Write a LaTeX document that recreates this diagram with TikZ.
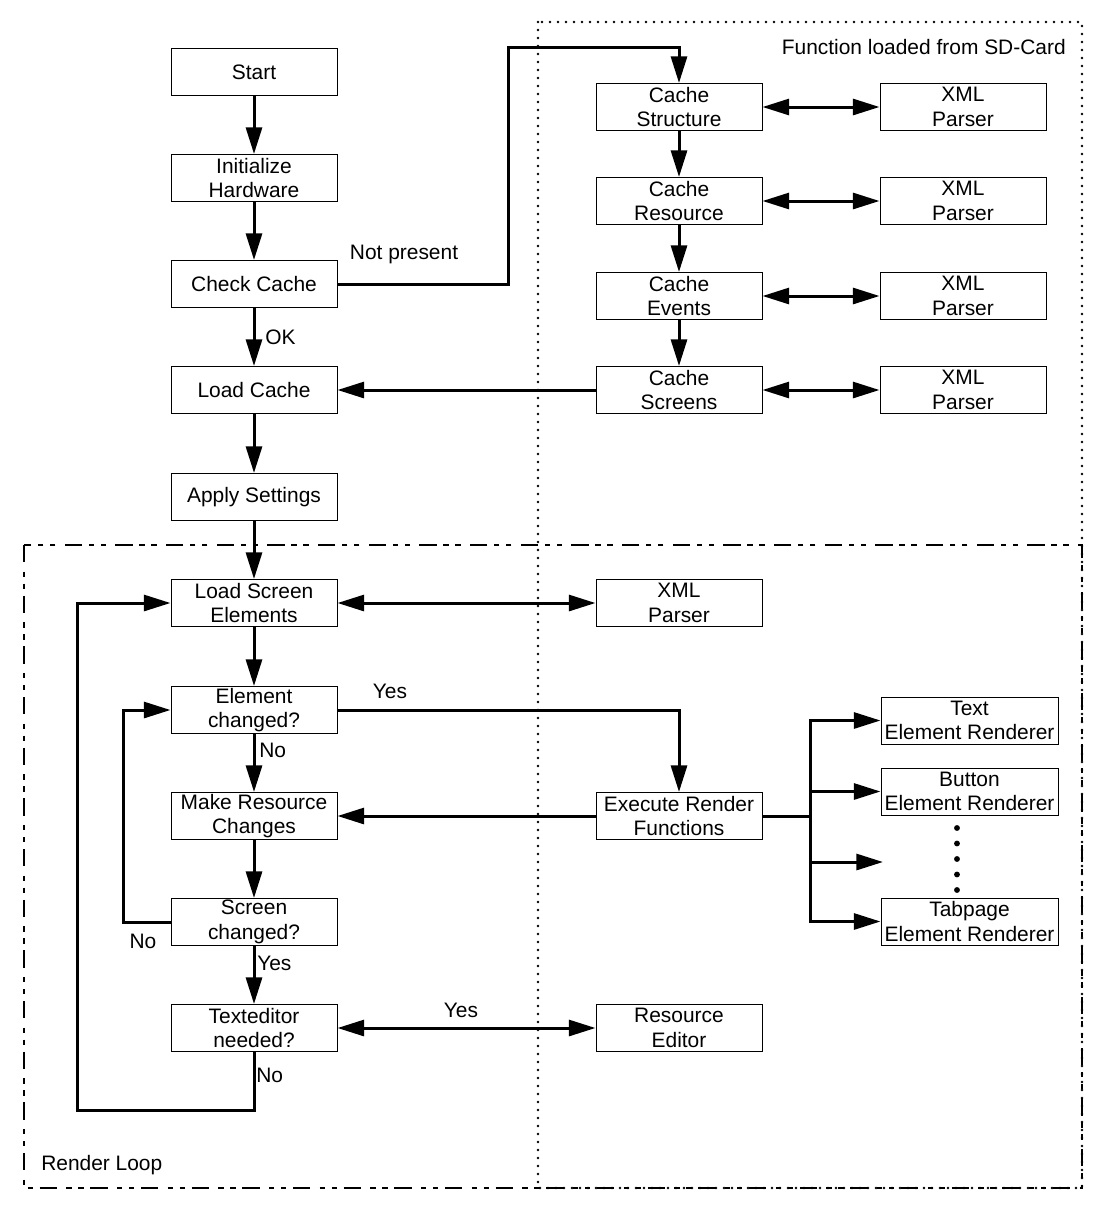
\documentclass[tikz,border=0pt]{standalone}
\usepackage{fontspec}
\setmainfont{Liberation Sans}
\usetikzlibrary{arrows.meta}
\begin{document}
\begin{tikzpicture}[x=0.75pt,y=-0.75pt,
  box/.style={draw,line width=0.75pt,minimum width=124.5pt,minimum height=35.25pt,inner sep=0pt,align=center,font=\fontsize{15.7}{18.5}\selectfont},
  rbox/.style={box,minimum width=132.75pt},
  lbl/.style={inner sep=0pt,font=\fontsize{15.7}{18.5}\selectfont},
  conn/.style={line width=2.25pt},
  arr/.style={conn,-{Triangle[length=20pt,width=12pt]}},
  darr/.style={conn,{Triangle[length=20pt,width=12pt]}-{Triangle[length=20pt,width=12pt]}},
  dotbox/.style={line width=2pt,line cap=round,dash pattern=on 0pt off 6pt},
  dashdotbox/.style={line width=2.1pt,dash pattern=on 13pt off 7pt on 4pt off 5pt on 4pt off 5pt}
]
\useasboundingbox (0,0) rectangle (1104,1211);

% group boxes
\draw[dotbox] (538,22) rectangle (1082,1188);
\draw[dashdotbox] (24,545) rectangle (1082,1188);
\node[lbl,anchor=east] (sdlbl) at (1066,47) {Function loaded from SD-Card};
\node[lbl,anchor=west] (rllbl) at (41,1165) {Render Loop};

% left column
\node[box] (start) at (254,72) {Start};
\node[box] (init) at (254,178) {Initialize\\Hardware};
\node[box] (check) at (254,284) {Check Cache};
\node[box] (loadc) at (254,390) {Load Cache};
\node[box] (apply) at (254,497) {Apply Settings};
\node[box] (lse) at (254,603) {Load Screen\\Elements};
\node[box] (ec) at (254,710) {Element\\changed?};
\node[box] (mrc) at (254,816) {Make Resource\\Changes};
\node[box] (sc) at (254,922) {Screen\\changed?};
\node[box] (ted) at (254,1028) {Texteditor\\needed?};

% middle column
\node[box] (cstruct) at (679,107) {Cache\\Structure};
\node[box] (cres) at (679,201) {Cache\\Resource};
\node[box] (cevt) at (679,296) {Cache\\Events};
\node[box] (cscr) at (679,390) {Cache\\Screens};
\node[box] (xmlm) at (679,603) {XML\\Parser};
\node[box] (exe) at (679,816) {Execute Render\\Functions};
\node[box] (redit) at (679,1028) {Resource\\Editor};

% right column
\node[box] (xml1) at (963,107) {XML\\Parser};
\node[box] (xml2) at (963,201) {XML\\Parser};
\node[box] (xml3) at (963,296) {XML\\Parser};
\node[box] (xml4) at (963,390) {XML\\Parser};
\node[rbox] (ter) at (969.5,720.5) {Text\\Element Renderer};
\node[rbox] (ber) at (969.5,791.5) {Button\\Element Renderer};
\node[rbox] (tabr) at (969.5,921.5) {Tabpage\\Element Renderer};
\coordinate (fork) at (810,816);
\coordinate (blank) at (883,862);

% dots
\foreach \yy in {828,843.5,859,874.5,890}
  \fill (957,\yy) circle (2.2pt);

% connectors
\draw[arr] (start) -- (init);
\draw[arr] (init) -- (check);
\draw[arr] (check) -- (loadc);
\node[lbl,anchor=west] (okl) at (265,337) {OK};
\draw[arr] (check.east) -| (508,47) -| (cstruct.north);
\node[lbl] (npl) at (404,254) {Not present};
\draw[darr] (cstruct) -- (xml1);
\draw[darr] (cres) -- (xml2);
\draw[darr] (cevt) -- (xml3);
\draw[darr] (cscr) -- (xml4);
\draw[arr] (cstruct) -- (cres);
\draw[arr] (cres) -- (cevt);
\draw[arr] (cevt) -- (cscr);
\draw[arr] (cscr) -- (loadc);
\draw[arr] (loadc) -- (apply);
\draw[arr] (apply) -- (lse);
\draw[darr] (lse) -- (xmlm);
\draw[arr] (lse) -- (ec);
\draw[arr] (ec) -- (mrc);
\node[lbl,anchor=west] (nol1) at (259,750) {No};
\draw[arr] (ec.east) -| (exe.north);
\node[lbl] (yesl1) at (390,691) {Yes};
\draw[arr] (exe) -- (mrc);
\draw[conn] (exe.east) -- (fork);
\draw[arr] (fork) |- (ter.west);
\draw[arr] (fork) |- (ber.west);
\draw[arr] (fork) |- (blank);
\draw[arr] (fork) |- (tabr.west);
\draw[arr] (mrc) -- (sc);
\draw[arr] (sc.west) -- ++(-47,0) |- (ec.west);
\node[lbl] (nol2) at (143,941) {No};
\draw[arr] (sc) -- (ted);
\node[lbl,anchor=west] (yesl2) at (257,963) {Yes};
\draw[darr] (ted) -- (redit);
\node[lbl] (yesl3) at (461,1010) {Yes};
\draw[arr] (ted.south) |- (77,1110) |- (lse.west);
\node[lbl,anchor=west] (nol3) at (256,1075) {No};
\end{tikzpicture}
\end{document}
